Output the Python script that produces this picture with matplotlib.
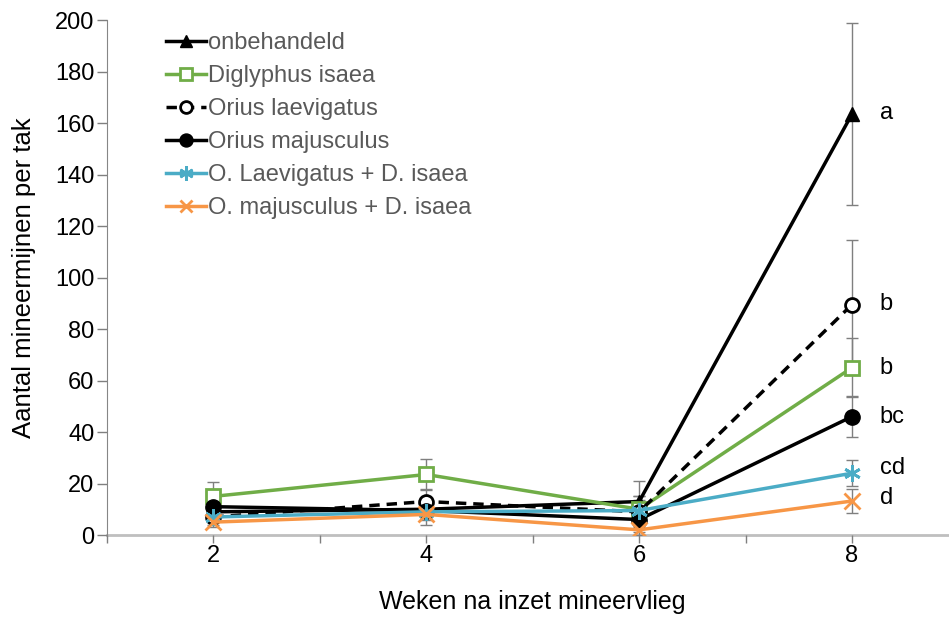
import matplotlib
matplotlib.use("Agg")
import matplotlib.pyplot as plt

plt.rcParams['font.family'] = ['Liberation Sans', 'DejaVu Sans']

weeks = [2, 4, 6, 8]
labels = ["onbehandeld", "Diglyphus isaea", "Orius laevigatus", "Orius majusculus",
          "O. Laevigatus + D. isaea", "O. majusculus + D. isaea"]
onbehandeld = [9, 10, 13, 163.5]
onbehandeld_err = [3, 3, 8, 35.5]
diglyphus = [15, 23.5, 10, 65]
diglyphus_err = [5.5, 6, 5, 11.5]
laevigatus = [7, 13, 9, 89.5]
laevigatus_err = [3, 5, 6, 25]
majusculus = [11, 9.5, 6, 46]
majusculus_err = [3, 3, 5, 8]
laev_dig = [7, 9, 9.5, 24]
laev_dig_err = [2, 3, 4, 5]
maj_dig = [5, 8, 2, 13.2]
maj_dig_err = [2, 4, 2, 4.5]
letters = ["a", "b", "b", "bc", "cd", "d"]
letter_y = [164, 89.7, 65, 46, 26, 14.5]

series = [onbehandeld, diglyphus, laevigatus, majusculus, laev_dig, maj_dig]
errors = [onbehandeld_err, diglyphus_err, laevigatus_err, majusculus_err, laev_dig_err, maj_dig_err]
styles = [
    dict(color='black', ls='-', marker='^', ms=10, mfc='black', mec='black', mew=1),
    dict(color='#70AD47', ls='-', marker='s', ms=10, mfc='white', mec='#70AD47', mew=2),
    dict(color='black', ls=(0, (3, 2)), marker='o', ms=10, mfc='white', mec='black', mew=2),
    dict(color='black', ls='-', marker='o', ms=11, mfc='black', mec='black', mew=1),
    dict(color='#4BACC6', ls='-', marker=(6, 2, 0), ms=12, mfc='#4BACC6', mec='#4BACC6', mew=2),
    dict(color='#F79646', ls='-', marker='x', ms=11, mfc='#F79646', mec='#F79646', mew=2),
]

fig = plt.figure(figsize=(9.49, 6.23), dpi=100)
ax = fig.add_axes([107/949, 1 - 535/623, (949 - 107)/949 + 0.01, (535 - 20)/623])

for y, e, st in zip(series, errors, styles):
    ax.errorbar(weeks, y, yerr=e, fmt='none', ecolor='#7F7F7F', elinewidth=1,
                capsize=4, capthick=1, zorder=2)
for y, st, lab in zip(series, styles, labels):
    ax.plot(weeks, y, lw=2.5, label=lab, zorder=3, **st)

for t, yy in zip(letters, letter_y):
    ax.text(8.26, yy, t, ha='left', va='center', fontsize=17, color='black')

ax.set_xlim(1, 9)
ax.set_ylim(0, 200)
ax.set_xticks(range(1, 9))
ax.set_xticklabels(['' if v % 2 else str(v) for v in range(1, 9)])
ax.set_yticks(range(0, 201, 20))
ax.tick_params(axis='both', labelsize=17, colors='#7F7F7F', labelcolor='black')
ax.tick_params(axis='y', length=7, width=1, pad=2)
ax.tick_params(axis='x', length=6, width=1, pad=1)
for s in ['top', 'right']:
    ax.spines[s].set_visible(False)
ax.spines['left'].set_color('#868686')
ax.spines['bottom'].set_color('#BFBFBF')
ax.spines['bottom'].set_linewidth(2)
ax.spines['bottom'].set_zorder(1)

ax.set_xlabel("Weken na inzet mineervlieg", fontsize=18, labelpad=17)
ax.set_ylabel("Aantal mineermijnen per tak", fontsize=18.5, labelpad=14)

leg = ax.legend(loc='upper left', bbox_to_anchor=(0.044, 1.018), frameon=False,
                fontsize=17, handlelength=1.7, handletextpad=0.1, labelspacing=0.47,
                labelcolor='#595959', markerscale=0.85)

fig.savefig("out.png", dpi=100)
